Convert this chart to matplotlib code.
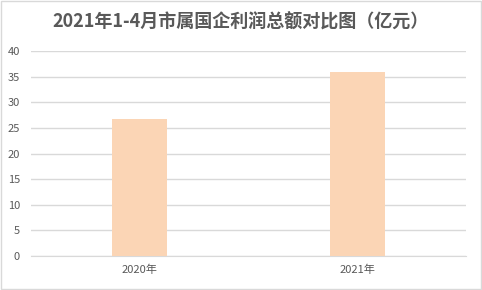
import matplotlib

matplotlib.use('Agg')
import matplotlib.pyplot as plt
from matplotlib.patches import Rectangle

plt.rcParams['font.family'] = ['Noto Sans CJK SC', 'DejaVu Sans']

# 数据
categories = ['2020年', '2021年']
profits = [26.7, 35.9]
y_ticks = [0, 5, 10, 15, 20, 25, 30, 35, 40]

fig = plt.figure(figsize=(4.82, 2.90), dpi=100)
ax = fig.add_axes([31 / 482, 1 - 256 / 290, 435 / 482, 205 / 290])

ax.bar(range(len(categories)), profits, width=0.253, color='#fbd5b5', zorder=3)
ax.set_xlim(-0.5, len(categories) - 0.5)
ax.set_ylim(0, 40)
ax.set_yticks(y_ticks)
ax.set_xticks(range(len(categories)))
ax.set_xticklabels(categories)
ax.grid(axis='y', color='#d9d9d9', linewidth=1.0, zorder=0)
for s in ['top', 'right', 'left']:
    ax.spines[s].set_visible(False)
ax.spines['bottom'].set_color('#d9d9d9')
ax.tick_params(axis='both', length=0, labelsize=8, colors='#595959')
ax.tick_params(axis='x', pad=6)
ax.tick_params(axis='y', pad=8)

fig.text(0.5, 1 - 22 / 290, '2021年1-4月市属国企利润总额对比图（亿元）',
         ha='center', va='center', fontsize=13, fontweight='bold', color='#595959')

fig.patches.append(Rectangle((0.002, 0.003), 0.995, 0.994, transform=fig.transFigure,
                             fill=False, edgecolor='#d9d9d9', linewidth=1.0))

fig.savefig('out.png', dpi=100)
